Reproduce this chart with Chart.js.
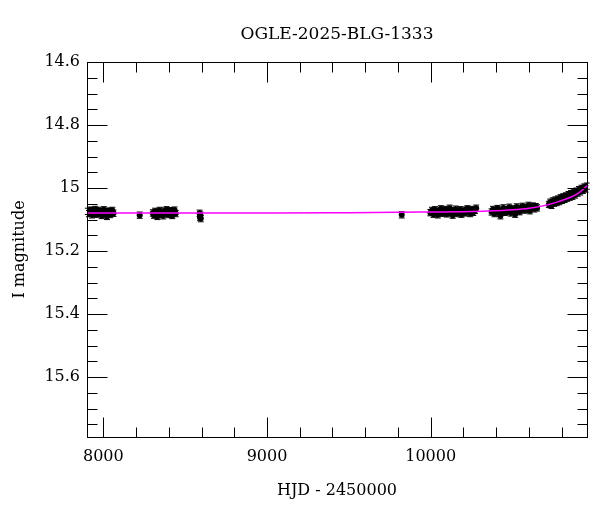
<!DOCTYPE html>
<html>
<head>
<meta charset="utf-8">
<script src="https://cdn.jsdelivr.net/npm/chart.js@4.4.1/dist/chart.umd.min.js"></script>
<style>
  body { margin: 0; background: #fff; }
  #wrap { width: 600px; height: 512px; }
</style>
</head>
<body>
<div id="wrap"><canvas id="lc"></canvas></div>
<script>
// OGLE-2025-BLG-1333 light curve

// photometry (HJD - 2450000, I mag)
const obsHjd = [
  7905, 7912, 7918, 7925, 7931, 7938, 7944, 7950, 7957, 7963, 7970, 7976, 7983, 7990, 7996,
  8003, 8010, 8016, 8022, 8029, 8035, 8042, 8048, 8055, 8062,
  8222,
  8302, 8309, 8316, 8323, 8330, 8337, 8344, 8351, 8358, 8365, 8372, 8379, 8386, 8393, 8400,
  8407, 8414, 8421, 8428, 8435, 8442,
  8588, 8590, 8593, 8595,
  9823,
  9998, 10008, 10017, 10026, 10035, 10044, 10053, 10062, 10071, 10080, 10089, 10098, 10107,
  10116, 10125, 10134, 10143, 10152, 10161, 10170, 10179, 10188, 10197, 10206, 10215, 10224,
  10233, 10242, 10251, 10260, 10270, 10278,
  10372, 10381, 10390, 10399, 10408, 10417, 10426, 10435, 10444, 10453, 10462, 10471, 10480,
  10489, 10498, 10507, 10516, 10525, 10534, 10543, 10552, 10561, 10570, 10579, 10588, 10597,
  10606, 10615, 10624, 10633, 10642, 10650,
  10722, 10730, 10738, 10746, 10754, 10762, 10770, 10778, 10786, 10794, 10802, 10810, 10818,
  10826, 10834, 10842, 10850, 10858, 10866, 10874, 10882, 10890, 10898, 10906, 10914, 10922,
  10930, 10938, 10946, 10953
];
const obsMag = [
  15.074, 15.081, 15.070, 15.078, 15.085, 15.072, 15.079, 15.068, 15.083, 15.076, 15.071, 15.080, 15.074, 15.087, 15.077,
  15.069, 15.082, 15.075, 15.090, 15.079, 15.073, 15.084, 15.078, 15.071, 15.080,
  15.086,
  15.079, 15.086, 15.074, 15.082, 15.090, 15.077, 15.071, 15.083, 15.078, 15.088, 15.073, 15.080, 15.069, 15.076, 15.084,
  15.072, 15.079, 15.087, 15.074, 15.070, 15.081,
  15.080, 15.092, 15.086, 15.097,
  15.085,
  15.078, 15.071, 15.083, 15.069, 15.076, 15.085, 15.073, 15.066, 15.080, 15.074, 15.068, 15.082, 15.077,
  15.064, 15.079, 15.086, 15.072, 15.067, 15.081, 15.075, 15.069, 15.083, 15.076, 15.070, 15.079, 15.066,
  15.074, 15.081, 15.068, 15.077, 15.071, 15.064,
  15.076, 15.068, 15.081, 15.072, 15.065, 15.079, 15.088, 15.070, 15.063, 15.077, 15.069, 15.074, 15.061,
  15.079, 15.066, 15.072, 15.083, 15.060, 15.068, 15.075, 15.064, 15.058, 15.070, 15.062, 15.067, 15.055,
  15.072, 15.061, 15.057, 15.066, 15.059, 15.063,
  15.052, 15.045, 15.055, 15.041, 15.048, 15.038, 15.046, 15.035, 15.043, 15.031, 15.039, 15.028, 15.036,
  15.025, 15.032, 15.021, 15.029, 15.018, 15.026, 15.014, 15.022, 15.010, 15.016, 15.005, 15.012, 15.001,
  15.007, 14.997, 15.003, 14.994
];
const magErr = 0.01;

// model curve
const fitHjd = [7900, 8500, 9000, 9500, 9800, 10000, 10200, 10350, 10500, 10600, 10700, 10780, 10850, 10900, 10955];
const fitMag = [15.079, 15.079, 15.079, 15.078, 15.077, 15.076, 15.075, 15.073, 15.069, 15.064, 15.055, 15.043, 15.030, 15.017, 14.993];

// axis ticks
const xTicks = [8000, 9000, 10000];
const yTicks = [14.6, 14.8, 15, 15.2, 15.4, 15.6];

const serif = 'DejaVu Serif';

// error bars under the points
const errorBars = {
  id: 'errorBars',
  beforeDatasetsDraw(chart) {
    const { ctx, scales: { x, y } } = chart;
    ctx.save();
    ctx.strokeStyle = '#000';
    ctx.lineWidth = 1;
    ctx.beginPath();
    obsHjd.forEach((t, i) => {
      const px = x.getPixelForValue(t);
      const y1 = y.getPixelForValue(obsMag[i] - magErr);
      const y2 = y.getPixelForValue(obsMag[i] + magErr);
      ctx.moveTo(px, y1); ctx.lineTo(px, y2);
      ctx.moveTo(px - 3, y1); ctx.lineTo(px + 3, y1);
      ctx.moveTo(px - 3, y2); ctx.lineTo(px + 3, y2);
    });
    ctx.stroke();
    ctx.restore();
  }
};

// box with inward ticks on all four sides
const frameTicks = {
  id: 'frameTicks',
  afterDraw(chart) {
    const { ctx, chartArea: a, scales: { x, y } } = chart;
    const l = Math.round(a.left) + 0.5, r = Math.round(a.right) + 0.5;
    const t = Math.round(a.top) + 0.5, b = Math.round(a.bottom) + 0.5;
    ctx.save();
    ctx.strokeStyle = '#000';
    ctx.lineWidth = 1;
    ctx.strokeRect(l, t, r - l, b - t);
    ctx.beginPath();
    for (let v = 8000; v <= x.max; v += 200) {
      const px = Math.round(x.getPixelForValue(v)) + 0.5;
      const len = v % 1000 === 0 ? 20 : 10;
      ctx.moveTo(px, b); ctx.lineTo(px, b - len);
      ctx.moveTo(px, t); ctx.lineTo(px, t + len);
    }
    for (let k = 0; k <= 24; k++) {
      const v = 14.6 + k * 0.05;
      if (v > y.max) break;
      const py = Math.round(y.getPixelForValue(v)) + 0.5;
      const len = k % 4 === 0 ? 20 : 10;
      ctx.moveTo(l, py); ctx.lineTo(l + len, py);
      ctx.moveTo(r, py); ctx.lineTo(r - len, py);
    }
    ctx.stroke();
    ctx.restore();
  }
};

const lc = new Chart(document.getElementById('lc'), {
  type: 'scatter',
  data: {
    datasets: [
      {
        type: 'line',
        label: 'model',
        data: fitHjd.map((t, i) => ({ x: t, y: fitMag[i] })),
        borderColor: '#ff00ff',
        borderWidth: 1.5,
        pointRadius: 0,
        fill: false,
        cubicInterpolationMode: 'monotone'
      },
      {
        label: 'OGLE I',
        data: obsHjd.map((t, i) => ({ x: t, y: obsMag[i] })),
        backgroundColor: '#000',
        borderColor: '#000',
        pointRadius: 3,
        borderWidth: 0
      }
    ]
  },
  options: {
    responsive: true,
    maintainAspectRatio: false,
    animation: false,
    layout: { padding: { top: 0, right: 13, left: 0, bottom: 0 } },
    plugins: {
      legend: { display: false },
      tooltip: { enabled: false },
      title: {
        display: true,
        text: 'OGLE-2025-BLG-1333',
        color: '#000',
        fullSize: false,
        font: { family: serif, size: 17, weight: 'normal', lineHeight: 1.2 },
        padding: { top: 24, bottom: 17.6 }
      }
    },
    scales: {
      x: {
        type: 'linear',
        min: 7900,
        max: 10955,
        afterBuildTicks: s => { s.ticks = xTicks.map(v => ({ value: v })); },
        afterFit: s => { s.height = 75; },
        grid: { display: false, drawTicks: false },
        border: { display: false },
        ticks: { color: '#000', padding: 10, font: { family: serif, size: 16 }, maxRotation: 0, callback: v => String(v) },
        title: { display: true, text: 'HJD - 2450000', color: '#000', font: { family: serif, size: 16 }, padding: { top: 0, bottom: 12 } }
      },
      y: {
        reverse: true,
        min: 14.6,
        max: 15.79,
        afterBuildTicks: s => { s.ticks = yTicks.map(v => ({ value: v })); },
        afterFit: s => { s.width = 87; },
        grid: { display: false, drawTicks: false },
        border: { display: false },
        ticks: { color: '#000', padding: 7, font: { family: serif, size: 16 }, callback: v => String(v) },
        title: { display: true, text: 'I magnitude', color: '#000', font: { family: serif, size: 16 }, padding: { top: 10, bottom: 0 } }
      }
    }
  },
  plugins: [errorBars, frameTicks]
});
</script>
</body>
</html>
